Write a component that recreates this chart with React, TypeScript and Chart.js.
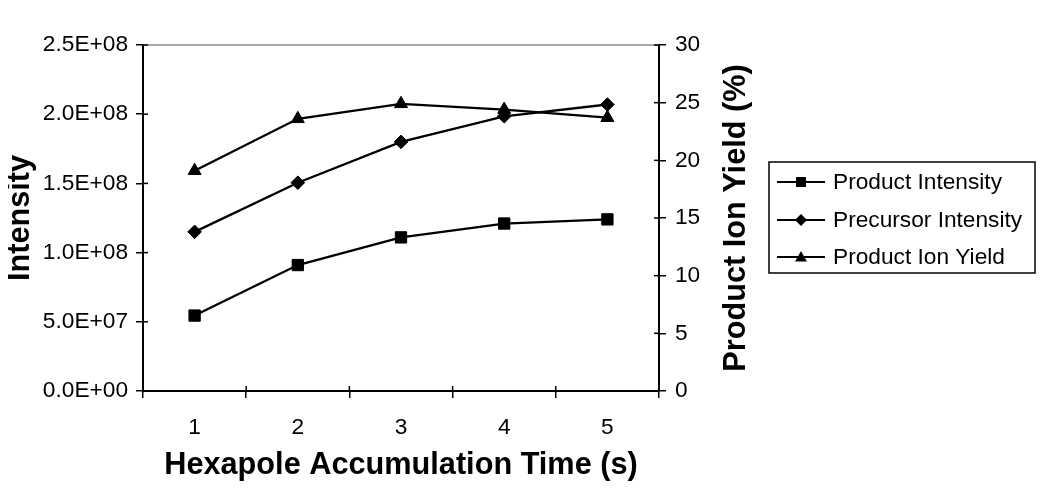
import React, { useEffect, useRef } from 'react';
import { Chart, registerables } from 'chart.js';

Chart.register(...registerables);

const categories = ['1', '2', '3', '4', '5'];
const productIntensity = [5.45e7, 9.1e7, 1.11e8, 1.21e8, 1.24e8];
const precursorIntensity = [1.15e8, 1.505e8, 1.8e8, 1.985e8, 2.07e8];
const productIonYield = [19.1, 23.6, 24.9, 24.4, 23.7];
const seriesNames = ['Product Intensity', 'Precursor Intensity', 'Product Ion Yield'];
const seriesMarkers = ['rect', 'rectRot', 'triangle'];
const leftAxis = { min: 0, max: 2.5e8, step: 5e7 };
const rightAxis = { min: 0, max: 30, step: 5 };
const xTitle = 'Hexapole Accumulation Time (s)';
const leftTitle = 'Intensity';
const rightTitle = 'Product Ion Yield (%)';

const FONT = "'Liberation Sans', Arial, Helvetica, sans-serif";
const TICK_SIZE = 22.7;
const TITLE_SIZE = 30.7;

function sci(v: number): string {
  const [m, e] = v.toExponential(1).split('e');
  const sign = e[0] === '-' ? '-' : '+';
  const d = e.replace(/[+-]/, '').padStart(2, '0');
  return `${m}E${sign}${d}`;
}

function marker(ctx: CanvasRenderingContext2D, style: string, x: number, y: number, s: number) {
  ctx.beginPath();
  if (style === 'rect') {
    ctx.rect(x - s, y - s, 2 * s, 2 * s);
  } else if (style === 'rectRot') {
    ctx.moveTo(x - s * 1.2, y);
    ctx.lineTo(x, y - s * 1.2);
    ctx.lineTo(x + s * 1.2, y);
    ctx.lineTo(x, y + s * 1.2);
    ctx.closePath();
  } else {
    ctx.moveTo(x, y - s * 1.2);
    ctx.lineTo(x + s * 1.2, y + s * 0.9);
    ctx.lineTo(x - s * 1.2, y + s * 0.9);
    ctx.closePath();
  }
  ctx.fill();
}

const decor = {
  id: 'decor',
  afterDraw(chart: any) {
    const { ctx, chartArea } = chart;
    const { left, right, top, bottom } = chartArea;
    const line = (x1: number, y1: number, x2: number, y2: number) => {
      ctx.beginPath();
      ctx.moveTo(x1, y1);
      ctx.lineTo(x2, y2);
      ctx.stroke();
    };
    ctx.save();
    // top border
    ctx.strokeStyle = '#8a8a8a';
    ctx.lineWidth = 1.5;
    line(left, top, right, top);
    // inner tick halves
    ctx.strokeStyle = '#000';
    ctx.lineWidth = 1.5;
    const y = chart.scales.y;
    y.ticks.forEach((t: any) => {
      const py = y.getPixelForValue(t.value);
      line(left, py, left + 5, py);
    });
    const y1 = chart.scales.y1;
    y1.ticks.forEach((t: any) => {
      const py = y1.getPixelForValue(t.value);
      line(right - 5, py, right, py);
    });
    const n = categories.length;
    for (let i = 0; i <= n; i++) {
      const px = left + (i * (right - left)) / n;
      line(px, bottom - 5, px, bottom);
    }
    // right title (reads bottom to top)
    ctx.save();
    ctx.translate(right + 78, (top + bottom) / 2);
    ctx.rotate(-Math.PI / 2);
    ctx.fillStyle = '#000';
    ctx.font = `bold ${TITLE_SIZE}px ${FONT}`;
    ctx.textAlign = 'center';
    ctx.textBaseline = 'middle';
    ctx.fillText(rightTitle, 0, 0);
    ctx.restore();
    // legend
    const bx = right + 110;
    const by = 154;
    ctx.strokeStyle = '#000';
    ctx.lineWidth = 1.5;
    ctx.strokeRect(bx, by, 266, 111);
    const ys = [174, 212, 249];
    ctx.font = `${TICK_SIZE}px ${FONT}`;
    ctx.textAlign = 'left';
    ctx.textBaseline = 'middle';
    seriesNames.forEach((name, i) => {
      ctx.strokeStyle = '#000';
      ctx.lineWidth = 2.2;
      line(bx + 8, ys[i], bx + 56, ys[i]);
      ctx.fillStyle = '#000';
      marker(ctx, seriesMarkers[i], bx + 32, ys[i], 5);
      ctx.fillText(name, bx + 64, ys[i] + 1);
    });
    ctx.restore();
  },
};

export default function App() {
  const ref = useRef<HTMLCanvasElement | null>(null);
  useEffect(() => {
    if (!ref.current) return;
    Chart.defaults.color = '#000';
    Chart.defaults.font.family = FONT;
    const gridCommon = {
      drawOnChartArea: false,
      drawTicks: true,
      tickLength: 7,
      color: '#000',
      lineWidth: 1.5,
    };
    const chart = new Chart(ref.current, {
      type: 'line',
      data: {
        labels: categories,
        datasets: [
          {
            label: seriesNames[0],
            data: productIntensity,
            yAxisID: 'y',
            borderColor: '#000',
            backgroundColor: '#000',
            borderWidth: 2.3,
            pointStyle: 'rect',
            pointRadius: 8,
            pointBorderWidth: 1,
          },
          {
            label: seriesNames[1],
            data: precursorIntensity,
            yAxisID: 'y',
            borderColor: '#000',
            backgroundColor: '#000',
            borderWidth: 2.3,
            pointStyle: 'rectRot',
            pointRadius: 6.8,
            pointBorderWidth: 1,
          },
          {
            label: seriesNames[2],
            data: productIonYield,
            yAxisID: 'y1',
            borderColor: '#000',
            backgroundColor: '#000',
            borderWidth: 2.3,
            pointStyle: 'triangle',
            pointRadius: 7.5,
            pointBorderWidth: 1,
          },
        ],
      },
      options: {
        responsive: false,
        animation: false,
        layout: { padding: { top: 37, left: 0, right: 283, bottom: 0 } },
        plugins: { legend: { display: false }, tooltip: { enabled: false } },
        scales: {
          x: {
            type: 'category',
            offset: true,
            grid: { ...gridCommon, offset: true },
            border: { color: '#000', width: 2 },
            ticks: { font: { size: TICK_SIZE }, padding: 16, autoSkip: false, maxRotation: 0 },
            title: {
              display: true,
              text: xTitle,
              font: { size: TITLE_SIZE, weight: 'bold', lineHeight: 1 },
              padding: { top: 0, bottom: 6 },
            },
            afterFit: (s: any) => {
              s.height = 96;
            },
          },
          y: {
            position: 'left',
            min: leftAxis.min,
            max: leftAxis.max,
            grid: gridCommon,
            border: { color: '#000', width: 2 },
            ticks: { stepSize: leftAxis.step, font: { size: TICK_SIZE }, padding: 8, callback: (v: any) => sci(Number(v)) },
            title: {
              display: true,
              text: leftTitle,
              font: { size: TITLE_SIZE, weight: 'bold', lineHeight: 1 },
              padding: { top: -3, bottom: 0 },
            },
            afterFit: (s: any) => {
              s.width = 135;
            },
          },
          y1: {
            position: 'right',
            min: rightAxis.min,
            max: rightAxis.max,
            grid: gridCommon,
            border: { color: '#000', width: 2 },
            ticks: { stepSize: rightAxis.step, font: { size: TICK_SIZE }, padding: 9 },
            afterFit: (s: any) => {
              s.width = 100;
            },
          },
        },
      } as any,
      plugins: [decor],
    });
    return () => chart.destroy();
  }, []);
  return (
    <div style={{ width: 1034, height: 479 }}>
      <canvas ref={ref} width={1034} height={479} />
    </div>
  );
}
